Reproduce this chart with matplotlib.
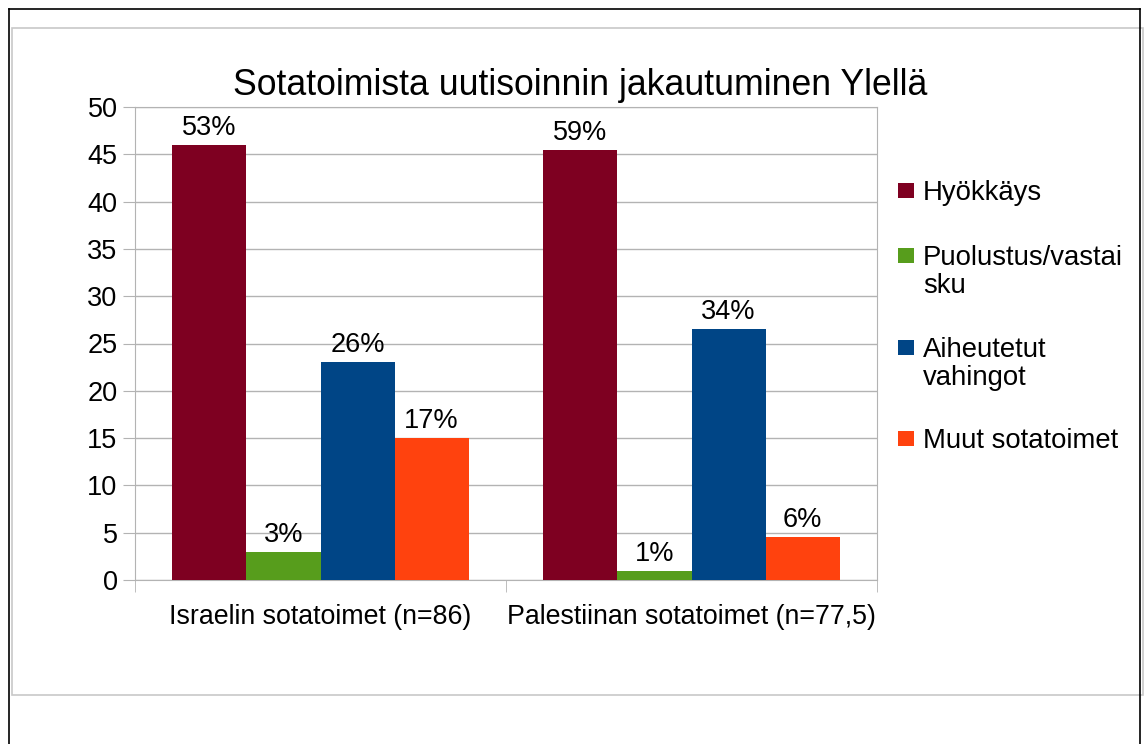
import matplotlib
matplotlib.use("Agg")
from matplotlib import pyplot as plt
from matplotlib.patches import Rectangle
from matplotlib.lines import Line2D
import numpy as np

plt.rcParams["font.family"] = ["Liberation Sans", "DejaVu Sans"]

# data
categories = ["Israelin sotatoimet (n=86)", "Palestiinan sotatoimet (n=77,5)"]
series_names = ["Hyökkäys", "Puolustus/vastai\nsku", "Aiheutetut\nvahingot", "Muut sotatoimet"]
values = [
    [46, 45.5],
    [3, 1],
    [23, 26.5],
    [15, 4.5],
]
pct_labels = [
    ["53%", "59%"],
    ["3%", "1%"],
    ["26%", "34%"],
    ["17%", "6%"],
]
colors = ["#7E0021", "#579D1C", "#004586", "#FF420E"]

W, H = 1145, 744
fig = plt.figure(figsize=(W / 100, H / 100), dpi=100)

# pixel -> figure fraction helpers
def fx(px):
    return px / W

def fy(py):
    return 1 - py / H

# outer frame lines (black) and inner chart border (gray)
fig.add_artist(Line2D([fx(9), fx(1140)], [fy(9), fy(9)], color="black", lw=1.2))
fig.add_artist(Line2D([fx(9), fx(9)], [fy(9), fy(744)], color="black", lw=1.2))
fig.add_artist(Line2D([fx(1140), fx(1140)], [fy(9), fy(744)], color="black", lw=1.2))
fig.add_artist(Rectangle((fx(12), fy(695)), fx(1143) - fx(12), fy(28) - fy(695),
                         facecolor="white", edgecolor="#c8c8c8", lw=1.2, zorder=1))

ax = fig.add_axes([fx(135), fy(580), fx(877) - fx(135), fy(107) - fy(580)])
ax.set_zorder(2)

x = np.arange(len(categories))
width = 0.1995
offsets = (np.arange(len(series_names)) - 1.5) * width
for i in range(len(series_names)):
    bars = ax.bar(x + offsets[i], values[i], width, color=colors[i], zorder=3)
    for b, lab in zip(bars, pct_labels[i]):
        ax.text(b.get_x() + b.get_width() / 2, b.get_height() + 1.05, lab,
                ha="center", va="baseline", fontsize=19.5)

ax.set_xlim(-0.5, 1.5)
ax.set_ylim(0, 50)
ax.set_yticks(range(0, 51, 5))
ax.yaxis.grid(True, color="#b3b3b3", lw=1)
ax.set_axisbelow(True)
for s in ax.spines.values():
    s.set_color("#b3b3b3")
ax.tick_params(axis="y", length=8.6, color="#b3b3b3", labelsize=19.5, pad=4)
ax.set_xticks(x)
ax.set_xticklabels(categories, fontsize=19.3)
ax.tick_params(axis="x", length=0, pad=17)
# category separator ticks
ax.set_xticks([-0.5, 0.5, 1.5], minor=True)
ax.tick_params(axis="x", which="minor", length=8.6, color="#b3b3b3")

fig.text(fx(580), fy(95), "Sotatoimista uutisoinnin jakautuminen Ylellä",
         ha="center", va="baseline", fontsize=25.7)

# legend, drawn by hand so wrapped names align on their first line
leg_base = [200, 265, 357, 448]
line_h = 28
for i, name in enumerate(series_names):
    base = leg_base[i]
    fig.add_artist(Rectangle((fx(898), fy(base - 2)), fx(16), fy(0) - fy(15),
                             facecolor=colors[i], edgecolor="none"))
    for k, line in enumerate(name.split("\n")):
        fig.text(fx(923), fy(base + k * line_h), line, ha="left", va="baseline",
                 fontsize=19.8)

fig.savefig("out.png", dpi=100)
